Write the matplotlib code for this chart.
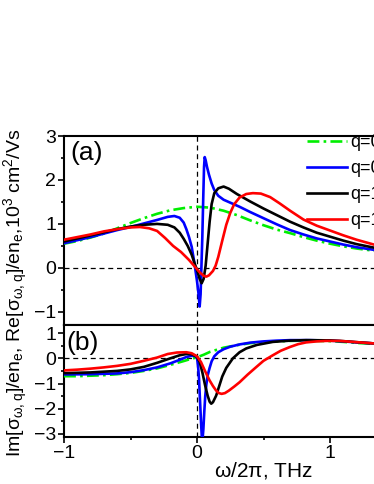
import matplotlib
matplotlib.use("Agg")
import matplotlib.pyplot as plt
from matplotlib.ticker import MultipleLocator, NullFormatter

plt.rcParams['font.family'] = ['Liberation Sans', 'DejaVu Sans']
plt.rcParams['mathtext.fontset'] = 'custom'
plt.rcParams['mathtext.rm'] = 'Liberation Sans'
plt.rcParams['mathtext.it'] = 'Liberation Sans'
plt.rcParams['mathtext.default'] = 'regular'

labels = ["q=0", "q=0.5", "q=1", "q=1.5"]
colors = ["#00ee00", "#0000ff", "#000000", "#ff0000"]

# ---- panel (a): Re ----
re_green_x = [-1.0, -0.9, -0.8, -0.7, -0.6, -0.5, -0.4, -0.3, -0.2, -0.1, 0.0, 0.1, 0.2, 0.3, 0.4, 0.5, 0.6, 0.7, 0.8, 0.9, 1.0, 1.1, 1.2, 1.33, 1.5, 1.75, 2.0]
re_green_y = [0.55, 0.61, 0.69, 0.78, 0.9, 1.02, 1.13, 1.23, 1.31, 1.36, 1.39, 1.37, 1.3, 1.2, 1.08, 0.97, 0.87, 0.79, 0.7, 0.62, 0.55, 0.49, 0.44, 0.39, 0.33, 0.26, 0.21]

re_blue_x = [-1.0, -0.9, -0.8, -0.7, -0.6, -0.5, -0.4, -0.3, -0.22, -0.17, -0.13, -0.1, -0.08, -0.06, -0.04, -0.02, 0.0, 0.01, 0.02, 0.027, 0.033, 0.04, 0.047, 0.053, 0.058, 0.065, 0.075, 0.09, 0.11, 0.13, 0.16, 0.2, 0.26, 0.32, 0.4, 0.5, 0.6, 0.7, 0.8, 0.9, 1.0, 1.1, 1.2, 1.33, 1.5, 1.75, 2.0]
re_blue_y = [0.56, 0.63, 0.7, 0.78, 0.86, 0.93, 1.01, 1.09, 1.16, 1.18, 1.14, 1.03, 0.88, 0.7, 0.48, 0.12, -0.3, -0.55, -0.88, -0.6, 0.0, 0.7, 1.6, 2.3, 2.52, 2.45, 2.3, 2.12, 1.92, 1.77, 1.64, 1.55, 1.47, 1.39, 1.27, 1.13, 0.99, 0.86, 0.76, 0.67, 0.6, 0.53, 0.47, 0.41, 0.35, 0.28, 0.23]

re_black_x = [-1.0, -0.9, -0.8, -0.7, -0.6, -0.5, -0.4, -0.3, -0.22, -0.17, -0.13, -0.1, -0.07, -0.04, -0.02, 0.0, 0.02, 0.035, 0.05, 0.065, 0.08, 0.095, 0.11, 0.13, 0.16, 0.2, 0.24, 0.3, 0.4, 0.5, 0.6, 0.7, 0.8, 0.9, 1.0, 1.1, 1.2, 1.33, 1.5, 1.75, 2.0]
re_black_y = [0.6, 0.67, 0.74, 0.81, 0.88, 0.94, 0.98, 1.0, 0.98, 0.92, 0.8, 0.66, 0.5, 0.3, 0.12, -0.05, -0.25, -0.35, -0.25, 0.05, 0.55, 1.05, 1.45, 1.7, 1.81, 1.85, 1.8, 1.68, 1.51, 1.35, 1.2, 1.05, 0.92, 0.8, 0.71, 0.62, 0.54, 0.46, 0.39, 0.31, 0.26]

re_red_x = [-1.0, -0.9, -0.8, -0.7, -0.6, -0.5, -0.43, -0.36, -0.3, -0.24, -0.18, -0.12, -0.06, -0.02, 0.02, 0.05, 0.07, 0.09, 0.12, 0.14, 0.16, 0.19, 0.22, 0.25, 0.28, 0.32, 0.37, 0.42, 0.48, 0.55, 0.62, 0.7, 0.8, 0.9, 1.0, 1.1, 1.2, 1.33, 1.5, 1.75, 2.0]
re_red_y = [0.64, 0.7, 0.76, 0.83, 0.88, 0.92, 0.93, 0.9, 0.84, 0.68, 0.5, 0.36, 0.18, 0.04, -0.1, -0.18, -0.2, -0.17, -0.07, 0.05, 0.25, 0.62, 0.98, 1.25, 1.45, 1.6, 1.68, 1.7, 1.69, 1.61, 1.47, 1.3, 1.1, 0.96, 0.85, 0.74, 0.64, 0.53, 0.44, 0.35, 0.28]

# ---- panel (b): Im ----
im_green_x = [-1.0, -0.9, -0.8, -0.7, -0.6, -0.5, -0.4, -0.3, -0.2, -0.1, -0.05, 0.0, 0.05, 0.1, 0.2, 0.3, 0.4, 0.5, 0.6, 0.7, 0.8, 0.9, 1.0, 1.1, 1.2, 1.33, 1.5, 1.75, 2.0]
im_green_y = [-0.71, -0.71, -0.69, -0.67, -0.63, -0.58, -0.5, -0.4, -0.26, -0.11, -0.03, 0.04, 0.14, 0.26, 0.42, 0.52, 0.6, 0.64, 0.67, 0.69, 0.7, 0.69, 0.68, 0.65, 0.61, 0.57, 0.51, 0.44, 0.38]

im_blue_x = [-1.0, -0.8, -0.6, -0.5, -0.4, -0.3, -0.2, -0.13, -0.08, -0.04, -0.02, 0.0, 0.008, 0.015, 0.022, 0.03, 0.036, 0.042, 0.048, 0.055, 0.062, 0.07, 0.08, 0.095, 0.11, 0.13, 0.16, 0.2, 0.25, 0.32, 0.4, 0.5, 0.6, 0.7, 0.85, 1.0, 1.1, 1.2, 1.33, 1.5, 1.75, 2.0]
im_blue_y = [-0.64, -0.63, -0.6, -0.55, -0.47, -0.36, -0.2, -0.06, 0.05, 0.1, 0.1, 0.02, -0.3, -0.8, -1.6, -2.5, -3.1, -3.2, -2.8, -2.1, -1.5, -1.05, -0.68, -0.38, -0.12, 0.08, 0.24, 0.36, 0.46, 0.55, 0.62, 0.67, 0.7, 0.72, 0.72, 0.7, 0.67, 0.63, 0.59, 0.53, 0.46, 0.4]

im_black_x = [-1.0, -0.8, -0.6, -0.5, -0.4, -0.3, -0.2, -0.13, -0.08, -0.04, 0.0, 0.02, 0.04, 0.06, 0.08, 0.095, 0.107, 0.12, 0.144, 0.17, 0.19, 0.22, 0.27, 0.32, 0.37, 0.45, 0.57, 0.7, 0.82, 1.0, 1.1, 1.2, 1.33, 1.5, 1.75, 2.0]
im_black_y = [-0.59, -0.56, -0.5, -0.44, -0.34, -0.18, 0.0, 0.12, 0.17, 0.16, 0.06, -0.15, -0.55, -1.05, -1.48, -1.72, -1.8, -1.74, -1.48, -1.05, -0.72, -0.38, 0.0, 0.24, 0.39, 0.53, 0.65, 0.7, 0.72, 0.71, 0.68, 0.64, 0.59, 0.53, 0.46, 0.4]

im_red_x = [-1.0, -0.9, -0.8, -0.7, -0.6, -0.5, -0.4, -0.3, -0.22, -0.15, -0.08, -0.04, 0.0, 0.03, 0.06, 0.094, 0.12, 0.144, 0.165, 0.185, 0.21, 0.24, 0.28, 0.32, 0.38, 0.445, 0.5, 0.57, 0.63, 0.7, 0.76, 0.82, 0.9, 0.97, 1.07, 1.2, 1.33, 1.5, 1.75, 2.0]
im_red_y = [-0.48, -0.45, -0.41, -0.36, -0.3, -0.22, -0.1, 0.03, 0.17, 0.23, 0.24, 0.2, 0.08, -0.15, -0.5, -0.87, -1.1, -1.28, -1.38, -1.41, -1.38, -1.28, -1.12, -0.95, -0.65, -0.35, -0.1, 0.12, 0.3, 0.45, 0.56, 0.63, 0.67, 0.69, 0.69, 0.64, 0.59, 0.53, 0.46, 0.4]

W, H = 374, 484
fig = plt.figure(figsize=(W / 100, H / 100), dpi=100)

left = 64 / W
width = (463 - 64) / W
ax1 = fig.add_axes([left, 1 - 325 / H, width, (325 - 136) / H])
ax2 = fig.add_axes([left, 1 - 437 / H, width, (437 - 325) / H])

lw = 1.9
green_ls = (0, (4.5, 1.6, 1.0, 1.6))

re_sets = [(re_green_x, re_green_y), (re_blue_x, re_blue_y), (re_black_x, re_black_y), (re_red_x, re_red_y)]
im_sets = [(im_green_x, im_green_y), (im_blue_x, im_blue_y), (im_black_x, im_black_y), (im_red_x, im_red_y)]

for ax in (ax1, ax2):
    ax.axhline(0, color='black', lw=0.9, ls=(0, (4, 3)), zorder=1)
    ax.axvline(0, color='black', lw=0.9, ls=(0, (4, 3)), zorder=1)

for i, ((xr, yr), (xi, yi)) in enumerate(zip(re_sets, im_sets)):
    ls = green_ls if i == 0 else '-'
    ax1.plot(xr, yr, color=colors[i], lw=lw, ls=ls, label=labels[i], zorder=3 + i,
             solid_joinstyle='round')
    ax2.plot(xi, yi, color=colors[i], lw=lw, ls=ls, zorder=3 + i, solid_joinstyle='round')

ax1.set_xlim(-1, 2)
ax2.set_xlim(-1, 2)
ax1.set_ylim(-1.3, 3)
ax2.set_ylim(-3.12, 1.32)

for ax in (ax1, ax2):
    for s in ax.spines.values():
        s.set_linewidth(1.5)
    ax.yaxis.set_major_locator(MultipleLocator(1))
    ax.yaxis.set_minor_locator(MultipleLocator(0.5))
    ax.tick_params(axis='both', which='major', direction='out', length=4, width=1.2, labelsize=14, pad=1.5)
    ax.tick_params(axis='both', which='minor', direction='out', length=2.5, width=1.2)

ax1.xaxis.set_major_locator(MultipleLocator(0.25))
ax1.xaxis.set_major_formatter(NullFormatter())
ax1.tick_params(axis='x', which='major', length=3)
ax2.xaxis.set_major_locator(MultipleLocator(1))
ax2.xaxis.set_minor_locator(MultipleLocator(0.5))

ax1.text(0.015, 0.91, "(a)", transform=ax1.transAxes, fontsize=19, va='center', ha='left')
ax2.text(0.006, 0.84, "(b)", transform=ax2.transAxes, fontsize=19, va='center', ha='left')

ax1.legend(loc='upper left', bbox_to_anchor=(0.609, 1.01), frameon=False, fontsize=13,
           handlelength=2.2, handletextpad=0.2, labelspacing=0.5, borderaxespad=0, borderpad=0)

ax2.set_xlabel(r"$\omega/2\pi$, THz", fontsize=15, labelpad=-1)
fig.text(0.043, 0.395, r"Im[$\sigma_{\omega,q}$]/en$_e$, Re[$\sigma_{\omega,q}$]/en$_e$,10$^3$ cm$^2$/Vs",
         rotation=90, ha='center', va='center', fontsize=14)

fig.savefig("out.png", dpi=100)
